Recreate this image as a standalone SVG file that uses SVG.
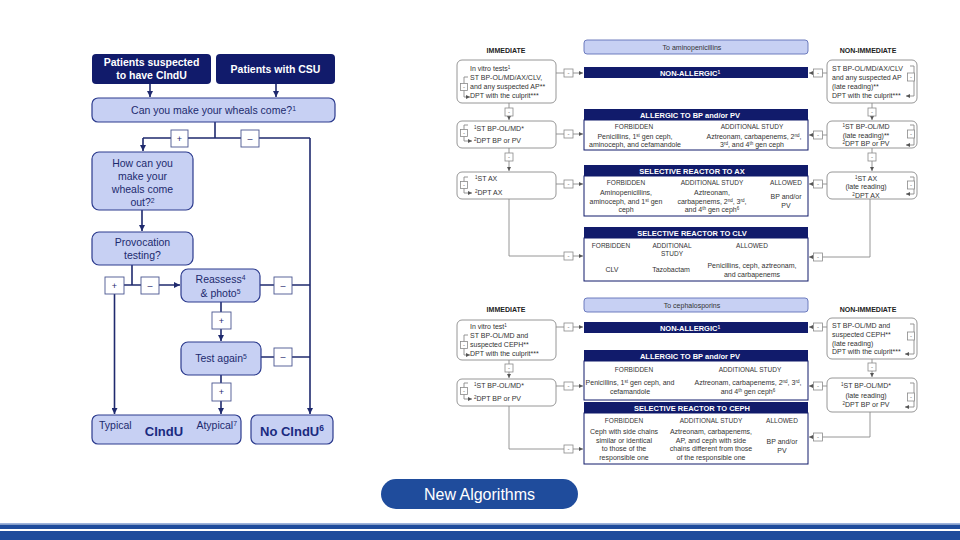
<svg xmlns="http://www.w3.org/2000/svg" width="960" height="540" viewBox="0 0 960 540">
<defs>
<style>
text{font-family:"Liberation Sans",Arial,sans-serif}
.nav{fill:#111b6b}
.lb{fill:#c7d0f3;stroke:#2c3b8e;stroke-width:1.2}
.wt{fill:#fff;font-weight:bold;font-size:10.5px;text-anchor:middle}
.lt{fill:#1c2a6e;font-size:10.5px;text-anchor:middle}
.ls{fill:#1c2a6e;font-size:10.5px;text-anchor:start}
.le{fill:#1c2a6e;font-size:10.5px;text-anchor:end}
.big{fill:#1a2a80;font-weight:bold;font-size:13px;text-anchor:middle}
.pm{fill:#fff;stroke:#4a5690;stroke-width:0.9}
.pmt{fill:#1c2a6e;font-size:9px;text-anchor:middle}
.cl{fill:none;stroke:#1f2a6e;stroke-width:1.6}
.rb{fill:#fff;stroke:#8a8a8a;stroke-width:0.9}
.rc{fill:none;stroke:#8a8a8a;stroke-width:0.9}
.bar{fill:#111b6b}
.ib{fill:#fff;stroke:#111b6b;stroke-width:1}
.tb{fill:#c7d0f3;stroke:#6070b8;stroke-width:0.9}
.bt{fill:#fff;font-weight:bold;font-size:7.5px;text-anchor:middle}
.rt{fill:#333;font-size:7px}
.rm{fill:#333;font-size:7px;text-anchor:middle}
.hd{fill:#333;font-size:6.5px;text-anchor:middle}
.ih{fill:#222;font-size:7px;font-weight:bold;text-anchor:middle}
.sb{fill:#fff;stroke:#8a8a8a;stroke-width:0.8}
.sbt{fill:#555;font-size:6px;text-anchor:middle}
.s{font-size:65%;baseline-shift:super}
</style>
<marker id="aL" viewBox="0 0 6 6" refX="6" refY="3" markerWidth="6" markerHeight="6" markerUnits="userSpaceOnUse" orient="auto"><path d="M0,0 L6,3 L0,6z" fill="#1f2a6e"/></marker>
<marker id="aR" viewBox="0 0 4 4" refX="4" refY="2" markerWidth="4" markerHeight="4" markerUnits="userSpaceOnUse" orient="auto"><path d="M0,0 L4,2 L0,4z" fill="#555"/></marker>
</defs>
<rect x="0" y="0" width="960" height="540" fill="#fff"/>

<!-- LEFT FLOWCHART CONNECTORS -->
<g id="left-connectors">
<path class="cl" d="M150,84 V97" marker-end="url(#aL)"/>
<path class="cl" d="M276,84 V97" marker-end="url(#aL)"/>
<path class="cl" d="M215,122 V138 M143,138 H310"/>
<path class="cl" d="M143,138 V151" marker-end="url(#aL)"/>
<path class="cl" d="M310,138 V414" marker-end="url(#aL)"/>
<path class="cl" d="M142,210 V231" marker-end="url(#aL)"/>
<path class="cl" d="M132,265 V285"/>
<path class="cl" d="M124,285 H180" marker-end="url(#aL)"/>
<path class="cl" d="M114.5,294 V414" marker-end="url(#aL)"/>
<path class="cl" d="M260,285 H310"/>
<path class="cl" d="M221,302 V341" marker-end="url(#aL)"/>
<path class="cl" d="M261,357 H310"/>
<path class="cl" d="M221,375 V414" marker-end="url(#aL)"/>
<rect class="pm" x="171" y="130" width="17" height="17"/><text class="pmt" x="179.5" y="142">+</text>
<rect class="pm" x="241" y="130" width="18" height="17"/><text class="pmt" x="250" y="142">–</text>
<rect class="pm" x="105" y="277" width="19" height="17"/><text class="pmt" x="114.5" y="289">+</text>
<rect class="pm" x="141" y="277" width="18" height="17"/><text class="pmt" x="150" y="289">–</text>
<rect class="pm" x="274" y="277" width="18" height="17"/><text class="pmt" x="283" y="289">–</text>
<rect class="pm" x="212" y="312" width="19" height="17"/><text class="pmt" x="221.5" y="324">+</text>
<rect class="pm" x="274" y="348" width="18" height="18"/><text class="pmt" x="283" y="360">–</text>
<rect class="pm" x="212" y="383" width="19" height="18"/><text class="pmt" x="221.5" y="395">+</text>
</g>

<!-- LEFT FLOWCHART NODES -->
<g id="n-suspected"><rect class="nav" x="92" y="54" width="119" height="30" rx="4"/><text class="wt" x="151.5" y="66">Patients suspected</text><text class="wt" x="151.5" y="79">to have CIndU</text></g>
<g id="n-csu"><rect class="nav" x="216" y="54" width="119" height="30" rx="4"/><text class="wt" x="275.5" y="73">Patients with CSU</text></g>
<g id="n-come"><rect class="lb" x="92" y="98" width="243" height="24" rx="6"/><text class="lt" x="213.5" y="114">Can you make your wheals come?<tspan class="s">1</tspan></text></g>
<g id="n-how"><rect class="lb" x="92" y="152" width="101" height="58" rx="7"/><text class="lt" x="142.5" y="167">How can you</text><text class="lt" x="142.5" y="180">make your</text><text class="lt" x="142.5" y="193">wheals come</text><text class="lt" x="142.5" y="206">out?<tspan class="s">2</tspan></text></g>
<g id="n-provocation"><rect class="lb" x="92" y="232" width="101" height="33" rx="7"/><text class="lt" x="142.5" y="246">Provocation</text><text class="lt" x="142.5" y="259">testing?</text></g>
<g id="n-reassess"><rect class="lb" x="181" y="269" width="79" height="33" rx="7"/><text class="lt" x="220.5" y="283">Reassess<tspan class="s">4</tspan></text><text class="lt" x="220.5" y="297">&amp; photo<tspan class="s">5</tspan></text></g>
<g id="n-test"><rect class="lb" x="181" y="342" width="80" height="33" rx="7"/><text class="lt" x="221" y="362">Test again<tspan class="s">5</tspan></text></g>
<g id="n-cindu"><rect class="lb" x="92" y="415" width="149" height="29" rx="6"/><text class="ls" x="99" y="429">Typical</text><text class="big" x="164" y="436">CIndU</text><text class="le" x="237" y="429">Atypical<tspan class="s">7</tspan></text></g>
<g id="n-nocindu"><rect class="lb" x="251" y="415" width="82" height="29" rx="6"/><text class="big" x="292" y="436">No CIndU<tspan class="s">6</tspan></text></g>

<!-- RIGHT PANEL CONNECTORS -->
<g id="right-connectors">
<path class="rc" d="M556,73 H583" marker-end="url(#aR)"/>
<path class="rc" d="M556,134 H583" marker-end="url(#aR)"/>
<path class="rc" d="M556,184 H583" marker-end="url(#aR)"/>
<path class="rc" d="M509,199 V256 H583" marker-end="url(#aR)"/>
<path class="rc" d="M509,103 V120" marker-end="url(#aR)"/>
<path class="rc" d="M509,148 V171" marker-end="url(#aR)"/>
<path class="rc" d="M827,73 H809" marker-end="url(#aR)"/>
<path class="rc" d="M827,135 H809" marker-end="url(#aR)"/>
<path class="rc" d="M827,184 H809" marker-end="url(#aR)"/>
<path class="rc" d="M870,199 V257 H809" marker-end="url(#aR)"/>
<path class="rc" d="M872,103 V120" marker-end="url(#aR)"/>
<path class="rc" d="M872,148 V171" marker-end="url(#aR)"/>
<path class="rc" d="M556,327 H583" marker-end="url(#aR)"/>
<path class="rc" d="M556,386 H583" marker-end="url(#aR)"/>
<path class="rc" d="M509,406 V449 H583" marker-end="url(#aR)"/>
<path class="rc" d="M509,360 V378" marker-end="url(#aR)"/>
<path class="rc" d="M827,327 H809" marker-end="url(#aR)"/>
<path class="rc" d="M827,386 H809" marker-end="url(#aR)"/>
<path class="rc" d="M870,412 V437 H809" marker-end="url(#aR)"/>
<path class="rc" d="M872,359 V377" marker-end="url(#aR)"/>
<rect class="sb" x="564" y="69" width="9" height="8"/><text class="sbt" x="568.5" y="75">-</text>
<rect class="sb" x="564" y="130" width="9" height="8"/><text class="sbt" x="568.5" y="136">-</text>
<rect class="sb" x="564" y="180" width="9" height="8"/><text class="sbt" x="568.5" y="186">-</text>
<rect class="sb" x="564" y="252" width="9" height="8"/><text class="sbt" x="568.5" y="258">-</text>
<rect class="sb" x="505" y="108" width="8" height="8"/><text class="sbt" x="509" y="114">-</text>
<rect class="sb" x="505" y="153" width="8" height="8"/><text class="sbt" x="509" y="159">-</text>
<rect class="sb" x="813.5" y="69" width="9" height="8"/><text class="sbt" x="818" y="75">-</text>
<rect class="sb" x="813.5" y="131" width="9" height="8"/><text class="sbt" x="818" y="137">-</text>
<rect class="sb" x="813.5" y="180" width="9" height="8"/><text class="sbt" x="818" y="186">-</text>
<rect class="sb" x="813.5" y="253" width="9" height="8"/><text class="sbt" x="818" y="259">-</text>
<rect class="sb" x="868" y="108" width="8" height="8"/><text class="sbt" x="872" y="114">-</text>
<rect class="sb" x="868" y="153" width="8" height="8"/><text class="sbt" x="872" y="159">-</text>
<rect class="sb" x="564" y="323" width="9" height="8"/><text class="sbt" x="568.5" y="329">-</text>
<rect class="sb" x="564" y="382" width="9" height="8"/><text class="sbt" x="568.5" y="388">-</text>
<rect class="sb" x="564" y="445" width="9" height="8"/><text class="sbt" x="568.5" y="451">-</text>
<rect class="sb" x="505" y="364" width="8" height="8"/><text class="sbt" x="509" y="370">-</text>
<rect class="sb" x="813.5" y="323" width="9" height="8"/><text class="sbt" x="818" y="329">-</text>
<rect class="sb" x="813.5" y="382" width="9" height="8"/><text class="sbt" x="818" y="388">-</text>
<rect class="sb" x="813.5" y="433" width="9" height="8"/><text class="sbt" x="818" y="439">-</text>
<rect class="sb" x="868" y="363" width="8" height="8"/><text class="sbt" x="872" y="369">-</text>
</g>

<!-- RIGHT PANEL: AMINOPENICILLINS -->
<g id="hdr-top"><text class="ih" x="506" y="53">IMMEDIATE</text><text class="ih" x="868" y="53">NON-IMMEDIATE</text></g>
<g id="r-to-amino"><rect class="tb" x="584" y="40" width="224" height="14" rx="3"/><text class="rm" x="692" y="50">To aminopenicillins</text></g>
<g id="r-nonallergic-1"><rect class="bar" x="584" y="67" width="224" height="11"/><text class="bt" x="690" y="75.5">NON-ALLERGIC<tspan class="s">1</tspan></text></g>
<g id="r-allergic-1"><rect class="bar" x="584" y="109" width="224" height="11"/><text class="bt" x="690" y="117.5">ALLERGIC TO BP and/or PV</text>
<rect class="ib" x="584" y="120" width="224" height="30"/>
<text class="hd" x="634" y="129">FORBIDDEN</text><text class="hd" x="752" y="129">ADDITIONAL STUDY</text>
<text class="rm" x="635" y="138.5">Penicillins, 1<tspan class="s">st</tspan> gen ceph,</text><text class="rm" x="635" y="147">aminoceph, and cefamandole</text>
<text class="rm" x="754" y="138.5">Aztreonam, carbapenems, 2<tspan class="s">nd</tspan>,</text><text class="rm" x="752" y="147">3<tspan class="s">rd</tspan>, and 4<tspan class="s">th</tspan> gen ceph</text></g>
<g id="r-selective-ax"><rect class="bar" x="584" y="165" width="224" height="11"/><text class="bt" x="692" y="173.5">SELECTIVE REACTOR TO AX</text>
<rect class="ib" x="584" y="176" width="224" height="40"/>
<text class="hd" x="626" y="185">FORBIDDEN</text><text class="hd" x="712" y="185">ADDITIONAL STUDY</text><text class="hd" x="786" y="185">ALLOWED</text>
<text class="rm" x="626" y="195">Aminopenicillins,</text><text class="rm" x="626" y="203.5">aminoceph, and 1<tspan class="s">st</tspan> gen</text><text class="rm" x="626" y="212">ceph</text>
<text class="rm" x="712" y="195">Aztreonam,</text><text class="rm" x="712" y="203.5">carbapenems, 2<tspan class="s">nd</tspan>, 3<tspan class="s">rd</tspan>,</text><text class="rm" x="712" y="212">and 4<tspan class="s">th</tspan> gen ceph<tspan class="s">6</tspan></text>
<text class="rm" x="786" y="199">BP and/or</text><text class="rm" x="786" y="207.5">PV</text></g>
<g id="r-selective-clv"><rect class="bar" x="584" y="227" width="224" height="11"/><text class="bt" x="692" y="235.5">SELECTIVE REACTOR TO CLV</text>
<rect class="ib" x="584" y="238" width="224" height="43"/>
<text class="hd" x="611" y="248">FORBIDDEN</text><text class="hd" x="672" y="248">ADDITIONAL</text><text class="hd" x="672" y="256">STUDY</text><text class="hd" x="752" y="248">ALLOWED</text>
<text class="rm" x="612" y="272">CLV</text><text class="rm" x="671" y="272">Tazobactam</text>
<text class="rm" x="752" y="268">Penicillins, ceph, aztreonam,</text><text class="rm" x="752" y="277">and carbapenems</text></g>

<g id="imm-1"><rect class="rb" x="457" y="60" width="99" height="43" rx="5"/>
<text class="rt" x="470" y="71">In vitro tests<tspan class="s">1</tspan></text><text class="rt" x="470" y="80">ST BP-OL/MD/AX/CLV,</text><text class="rt" x="470" y="89">and any suspected AP**</text><text class="rt" x="470" y="98">DPT with the culprit***</text>
<path class="rc" d="M468,77 H464 V97 H470" marker-end="url(#aR)"/><rect class="sb" x="460.5" y="83.5" width="7" height="7"/><text class="sbt" x="464" y="89">-</text></g>
<g id="imm-2"><rect class="rb" x="457" y="121" width="99" height="27" rx="5"/>
<text class="rt" x="474" y="131"><tspan class="s">1</tspan>ST BP-OL/MD*</text><text class="rt" x="474" y="143"><tspan class="s">2</tspan>DPT BP or PV</text>
<path class="rc" d="M468,125 H464 V141 H472" marker-end="url(#aR)"/><rect class="sb" x="460.5" y="129.5" width="7" height="7"/><text class="sbt" x="464" y="135">-</text></g>
<g id="imm-3"><rect class="rb" x="457" y="172" width="99" height="27" rx="5"/>
<text class="rt" x="475" y="181"><tspan class="s">1</tspan>ST AX</text><text class="rt" x="475" y="195"><tspan class="s">2</tspan>DPT AX</text>
<path class="rc" d="M468,177 H464 V193 H472" marker-end="url(#aR)"/><rect class="sb" x="460.5" y="181.5" width="7" height="7"/><text class="sbt" x="464" y="187">-</text></g>

<g id="ni-1"><rect class="rb" x="827" y="60" width="90" height="43" rx="5"/>
<text class="rt" x="832" y="71">ST BP-OL/MD/AX/CLV</text><text class="rt" x="832" y="80">and any suspected AP</text><text class="rt" x="832" y="89">(late reading)**</text><text class="rt" x="832" y="98">DPT with the culprit***</text>
<path class="rc" d="M910,66 H914 V96 H906" marker-end="url(#aR)"/><rect class="sb" x="907.5" y="73" width="7" height="8"/><text class="sbt" x="911" y="79">-</text></g>
<g id="ni-2"><rect class="rb" x="827" y="121" width="90" height="27" rx="5"/>
<text class="rm" x="866" y="129"><tspan class="s">1</tspan>ST BP-OL/MD</text><text class="rm" x="866" y="137.5">(late reading)**</text><text class="rm" x="866" y="146"><tspan class="s">2</tspan>DPT BP or PV</text>
<path class="rc" d="M910,125 H914 V145 H906" marker-end="url(#aR)"/><rect class="sb" x="907.5" y="130" width="7" height="8"/><text class="sbt" x="911" y="136">-</text></g>
<g id="ni-3"><rect class="rb" x="827" y="172" width="90" height="27" rx="5"/>
<text class="rm" x="866" y="180.5"><tspan class="s">1</tspan>ST AX</text><text class="rm" x="866" y="189">(late reading)</text><text class="rm" x="866" y="197.5"><tspan class="s">2</tspan>DPT AX</text>
<path class="rc" d="M910,177 H914 V194 H906" marker-end="url(#aR)"/><rect class="sb" x="907.5" y="181" width="7" height="8"/><text class="sbt" x="911" y="187">-</text></g>

<!-- RIGHT PANEL: CEPHALOSPORINS -->
<g id="hdr-bottom"><text class="ih" x="506" y="312">IMMEDIATE</text><text class="ih" x="868" y="312">NON-IMMEDIATE</text></g>
<g id="r-to-ceph"><rect class="tb" x="584" y="298" width="224" height="14" rx="3"/><text class="rm" x="692" y="308">To cephalosporins</text></g>
<g id="r-nonallergic-2"><rect class="bar" x="584" y="322" width="224" height="11"/><text class="bt" x="690" y="330.5">NON-ALLERGIC<tspan class="s">1</tspan></text></g>
<g id="r-allergic-2"><rect class="bar" x="584" y="350" width="224" height="11"/><text class="bt" x="690" y="358.5">ALLERGIC TO BP and/or PV</text>
<rect class="ib" x="584" y="361" width="224" height="39"/>
<text class="hd" x="634" y="372">FORBIDDEN</text><text class="hd" x="750" y="372">ADDITIONAL STUDY</text>
<text class="rm" x="630" y="385">Penicillins, 1<tspan class="s">st</tspan> gen ceph, and</text><text class="rm" x="630" y="393.5">cefamandole</text>
<text class="rm" x="748" y="385">Aztreonam, carbapenems, 2<tspan class="s">nd</tspan>, 3<tspan class="s">rd</tspan>,</text><text class="rm" x="748" y="393.5">and 4<tspan class="s">th</tspan> gen ceph<tspan class="s">6</tspan></text></g>
<g id="r-selective-ceph"><rect class="bar" x="584" y="402" width="224" height="11"/><text class="bt" x="692" y="410.5">SELECTIVE REACTOR TO CEPH</text>
<rect class="ib" x="584" y="413" width="224" height="51"/>
<text class="hd" x="624" y="423">FORBIDDEN</text><text class="hd" x="711" y="423">ADDITIONAL STUDY</text><text class="hd" x="782" y="423">ALLOWED</text>
<text class="rm" x="624" y="434">Ceph with side chains</text><text class="rm" x="624" y="442.5">similar or identical</text><text class="rm" x="624" y="451">to those of the</text><text class="rm" x="624" y="459.5">responsible one</text>
<text class="rm" x="711" y="434">Aztreonam, carbapenems,</text><text class="rm" x="711" y="442.5">AP, and ceph with side</text><text class="rm" x="711" y="451">chains different from those</text><text class="rm" x="711" y="459.5">of the responsible one</text>
<text class="rm" x="782" y="444">BP and/or</text><text class="rm" x="782" y="452.5">PV</text></g>

<g id="b-imm-1"><rect class="rb" x="457" y="320" width="99" height="40" rx="5"/>
<text class="rt" x="470" y="329">In vitro test<tspan class="s">1</tspan></text><text class="rt" x="470" y="338">ST BP-OL/MD and</text><text class="rt" x="470" y="347">suspected CEPH**</text><text class="rt" x="470" y="356">DPT with the culprit***</text>
<path class="rc" d="M468,335 H464 V355 H470" marker-end="url(#aR)"/><rect class="sb" x="460.5" y="341.5" width="7" height="7"/><text class="sbt" x="464" y="347">-</text></g>
<g id="b-imm-2"><rect class="rb" x="457" y="379" width="99" height="27" rx="5"/>
<text class="rt" x="474" y="388"><tspan class="s">1</tspan>ST BP-OL/MD*</text><text class="rt" x="474" y="401"><tspan class="s">2</tspan>DPT BP or PV</text>
<path class="rc" d="M468,383 H464 V399 H472" marker-end="url(#aR)"/><rect class="sb" x="460.5" y="387.5" width="7" height="7"/><text class="sbt" x="464" y="393">-</text></g>
<g id="b-ni-1"><rect class="rb" x="827" y="318" width="90" height="41" rx="5"/>
<text class="rt" x="832" y="328">ST BP-OL/MD and</text><text class="rt" x="832" y="337">suspected CEPH**</text><text class="rt" x="832" y="345.5">(late reading)</text><text class="rt" x="832" y="354">DPT with the culprit***</text>
<path class="rc" d="M910,324 H914 V354 H905" marker-end="url(#aR)"/><rect class="sb" x="907.5" y="332" width="7" height="8"/><text class="sbt" x="911" y="338">-</text></g>
<g id="b-ni-2"><rect class="rb" x="827" y="378" width="90" height="34" rx="5"/>
<text class="rm" x="866" y="388"><tspan class="s">1</tspan>ST BP-OL/MD*</text><text class="rm" x="866" y="397.5">(late reading)</text><text class="rm" x="866" y="407"><tspan class="s">2</tspan>DPT BP or PV</text>
<path class="rc" d="M910,383 H914 V407 H905" marker-end="url(#aR)"/><rect class="sb" x="907.5" y="393" width="7" height="8"/><text class="sbt" x="911" y="399">-</text></g>

<!-- FOOTER -->
<g id="footer-pill"><rect x="381" y="479" width="197" height="30" rx="15" fill="#1f4c9c"/><text x="479.5" y="500" text-anchor="middle" fill="#fff" font-family="'Open Sans','Liberation Sans',sans-serif" font-size="16">New Algorithms</text></g>
<g id="footer-bands"><rect x="0" y="523" width="960" height="1.2" fill="#9fb4dd"/><rect x="0" y="524.5" width="960" height="4.5" fill="#1f4c9c"/><rect x="0" y="531" width="960" height="9" fill="#1f4c9c"/></g>
</svg>
